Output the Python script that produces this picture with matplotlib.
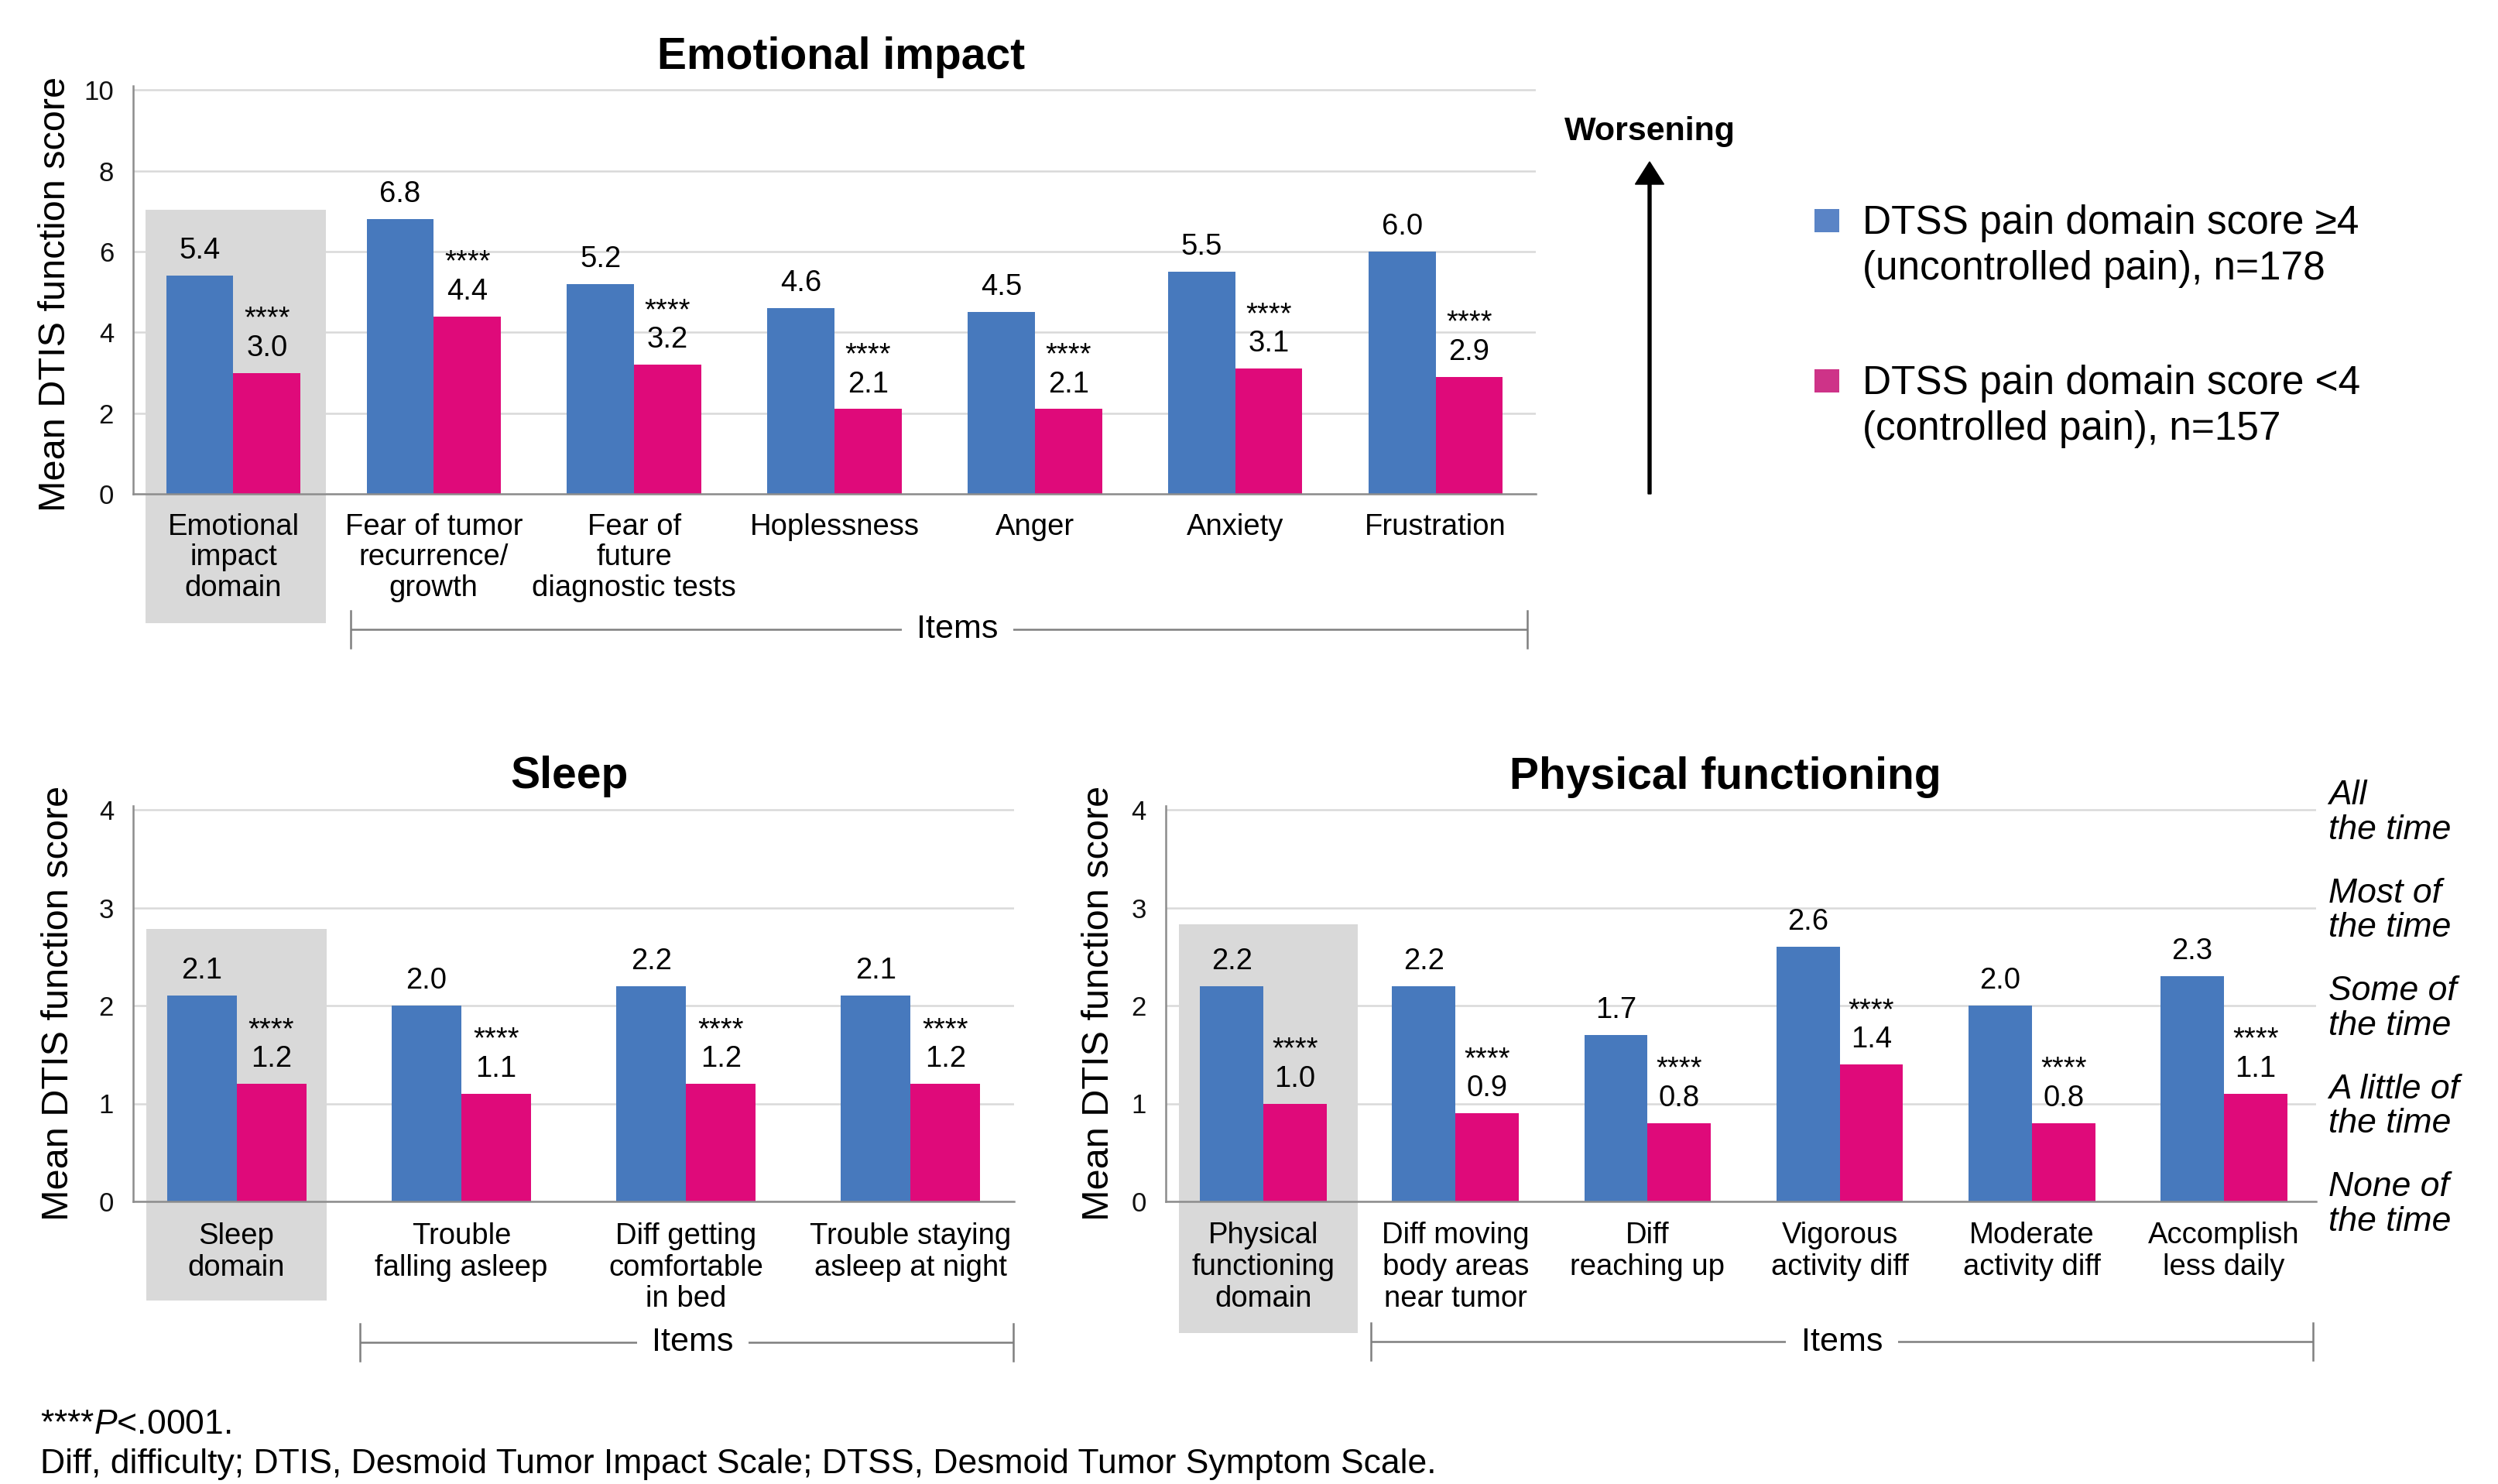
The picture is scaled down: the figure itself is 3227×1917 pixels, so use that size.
import matplotlib
matplotlib.use("Agg")
import matplotlib.pyplot as plt
from matplotlib.patches import Rectangle, FancyArrow
from matplotlib.transforms import blended_transform_factory as blend
import numpy as np

plt.rcParams['font.family'] = ['Liberation Sans', 'DejaVu Sans']
plt.rcParams['mathtext.fontset'] = 'custom'
plt.rcParams['mathtext.rm'] = 'Liberation Sans'
plt.rcParams['mathtext.it'] = 'Liberation Sans:italic'

# ---------------- data ----------------
emo_categories = ["Emotional\nimpact\ndomain", "Fear of tumor\nrecurrence/\ngrowth",
                  "Fear of\nfuture\ndiagnostic tests", "Hoplessness", "Anger", "Anxiety", "Frustration"]
emo_uncontrolled = [5.4, 6.8, 5.2, 4.6, 4.5, 5.5, 6.0]
emo_controlled = [3.0, 4.4, 3.2, 2.1, 2.1, 3.1, 2.9]

sleep_categories = ["Sleep\ndomain", "Trouble\nfalling asleep",
                    "Diff getting\ncomfortable\nin bed", "Trouble staying\nasleep at night"]
sleep_uncontrolled = [2.1, 2.0, 2.2, 2.1]
sleep_controlled = [1.2, 1.1, 1.2, 1.2]

phys_categories = ["Physical\nfunctioning\ndomain", "Diff moving\nbody areas\nnear tumor",
                   "Diff\nreaching up", "Vigorous\nactivity diff", "Moderate\nactivity diff",
                   "Accomplish\nless daily"]
phys_uncontrolled = [2.2, 2.2, 1.7, 2.6, 2.0, 2.3]
phys_controlled = [1.0, 0.9, 0.8, 1.4, 0.8, 1.1]

series_labels = [["DTSS pain domain score \u22654", "(uncontrolled pain), n=178"],
                 ["DTSS pain domain score <4", "(controlled pain), n=157"]]
significance = "****"
emo_yticks = [0, 2, 4, 6, 8, 10]
sub_yticks = [0, 1, 2, 3, 4]
frequency_levels = [0, 1, 2, 3, 4]
frequency_labels = [["None of", "the time"], ["A little of", "the time"], ["Some of", "the time"],
                    ["Most of", "the time"], ["All", "the time"]]
titles = ["Emotional impact", "Sleep", "Physical functioning"]
ylabel = "Mean DTIS function score"
footnotes = [r"****$\mathit{P}$<.0001.",
             "Diff, difficulty; DTIS, Desmoid Tumor Impact Scale; DTSS, Desmoid Tumor Symptom Scale."]

# ---------------- style ----------------
BLUE = '#4779BD'
PINK = '#DF0A7A'
BLUE_LEG = '#5A84C6'
PINK_LEG = '#CE3388'
BOX = '#D9D9D9'
GRID = '#D9D9D9'
SPINE = '#8C8C8C'
BRACKET = '#7F7F7F'

W, H, DPI = 3227, 1917, 100
fig = plt.figure(figsize=(W / DPI, H / DPI), dpi=DPI)

# overlay axes in pixel coordinates
ov = fig.add_axes([0, 0, 1, 1], zorder=10)
ov.set_xlim(0, W)
ov.set_ylim(H, 0)
ov.axis('off')
ov.patch.set_alpha(0)


def add_axes_px(left, right, top, bottom):
    return fig.add_axes([left / W, 1 - bottom / H, (right - left) / W, (bottom - top) / H])


def make_chart(pos, cats, unc, con, xlim, ylim, yticks, barw, box, lab_base, lab_step,
               title, title_xy, ylab_xy, bracket):
    ax = add_axes_px(*pos)
    x = np.arange(len(cats))
    ax.set_xlim(*xlim)
    ax.set_ylim(*ylim)
    ax.set_axisbelow(True)
    ax.yaxis.grid(True, color=GRID, lw=1.8)
    ax.set_yticks(yticks)
    ax.set_xticks([])
    ax.tick_params(axis='y', length=0, pad=18, labelsize=25, labelcolor='#111111')
    for s in ['top', 'right']:
        ax.spines[s].set_visible(False)
    for s in ['left', 'bottom']:
        ax.spines[s].set_color(SPINE)
        ax.spines[s].set_linewidth(1.8)
    # grey domain box
    bx0, bx1, by0, by1 = box
    ax.add_patch(Rectangle((bx0, by0), bx1 - bx0, by1 - by0, facecolor=BOX,
                           edgecolor='none', zorder=0.8, clip_on=False))
    ax.bar(x - barw / 2, unc, barw, color=BLUE, zorder=2)
    ax.bar(x + barw / 2, con, barw, color=PINK, zorder=2)
    for xi, u, c in zip(x, unc, con):
        ax.annotate(f"{u:.1f}", xy=(xi - barw / 2, u), xytext=(0, 15.8), textcoords='offset points',
                    ha='center', va='baseline', fontsize=27.5, zorder=5)
        ax.annotate(f"{significance}\n{c:.1f}", xy=(xi + barw / 2, c), xytext=(0, 15.8),
                    textcoords='offset points', ha='center', va='baseline', fontsize=27.5,
                    linespacing=1.04, zorder=5)
    tr = blend(ax.transData, ov.transData)
    for xi, lab in zip(x, cats):
        for j, line in enumerate(lab.split("\n")):
            ax.text(xi, lab_base + j * lab_step, line, transform=tr, ha='center', va='baseline',
                    fontsize=27.5, zorder=5, clip_on=False)
    ov.text(title_xy[0], title_xy[1], title, ha='center', va='baseline', fontsize=41,
            fontweight='bold')
    ov.text(ylab_xy[0], ylab_xy[1], ylabel, rotation=90, ha='center', va='center', fontsize=35)
    bx_l, bx_r, by, tx, tb = bracket
    ov.plot([bx_l, bx_r], [by, by], color=BRACKET, lw=1.8, solid_capstyle='butt')
    for xx in (bx_l, bx_r):
        ov.plot([xx, xx], [by - 24, by + 24], color=BRACKET, lw=1.8)
    ov.text(tx, tb, "Items", ha='center', va='baseline', fontsize=31,
            bbox=dict(facecolor='white', edgecolor='none', pad=14))
    return ax


# Emotional impact (y0 at 638 px, 52.15 px per unit)
emo_top = 638 - 10.1 * 52.15
ax1 = make_chart((172, 1984, emo_top, 638), emo_categories, emo_uncontrolled, emo_controlled,
                 (-0.5, 6.5), (0, 10.1), emo_yticks, 0.335, (-0.44, 0.46, -3.2, 7.04),
                 691, 39.5, titles[0], (1087, 89), (72, 379.5),
                 (453, 1973, 813, 1237, 824))

# Sleep (y0 at 1552 px, 126.5 px per unit)
sub_top = 1552 - 4.04 * 126.5
ax2 = make_chart((172, 1310, sub_top, 1552), sleep_categories, sleep_uncontrolled, sleep_controlled,
                 (-0.46, 3.46), (0, 4.04), sub_yticks, 0.31, (-0.40, 0.40, -1.01, 2.78),
                 1607, 40.5, titles[1], (736, 1018), (75.5, 1295.5),
                 (465, 1309, 1734.5, 895, 1745))

# Physical functioning
ax3 = make_chart((1505.6, 2992, sub_top, 1552), phys_categories, phys_uncontrolled, phys_controlled,
                 (-0.51, 5.48), (0, 4.04), sub_yticks, 0.33, (-0.44, 0.49, -1.34, 2.83),
                 1606, 40.8, titles[2], (2228.6, 1019), (1419, 1295.5),
                 (1771, 2987.5, 1733, 2379.5, 1745))

# frequency labels on right of physical functioning chart
trf = blend(ov.transData, ax3.transData)
for lvl, (l1, l2) in zip(frequency_levels, frequency_labels):
    ax3.annotate(l1, xy=(3008, lvl), xycoords=trf, xytext=(0, 4.8), textcoords='offset points',
                 ha='left', va='baseline', fontsize=32, style='italic', annotation_clip=False)
    ax3.annotate(l2, xy=(3008, lvl), xycoords=trf, xytext=(0, -27.2), textcoords='offset points',
                 ha='left', va='baseline', fontsize=32, style='italic', annotation_clip=False)

# Worsening arrow
ov.text(2131, 181, "Worsening", ha='center', va='baseline', fontsize=31, fontweight='bold')
ov.add_patch(FancyArrow(2131, 638, 0, -(638 - 209), width=4, head_width=37, head_length=29,
                        length_includes_head=True, color='black'))

# Legend
leg_colors = [BLUE_LEG, PINK_LEG]
leg_tops = [270, 477]
for col, top, lines in zip(leg_colors, leg_tops, series_labels):
    ov.add_patch(Rectangle((2344, top), 32, 30, facecolor=col, edgecolor='none'))
    ov.text(2406, top + 32, lines[0], ha='left', va='baseline', fontsize=37)
    ov.text(2406, top + 91, lines[1], ha='left', va='baseline', fontsize=37)

# Footnotes
ov.text(52, 1852, footnotes[0], ha='left', va='baseline', fontsize=32)
ov.text(52, 1903, footnotes[1], ha='left', va='baseline', fontsize=32)

fig.savefig("out.png", dpi=DPI)
